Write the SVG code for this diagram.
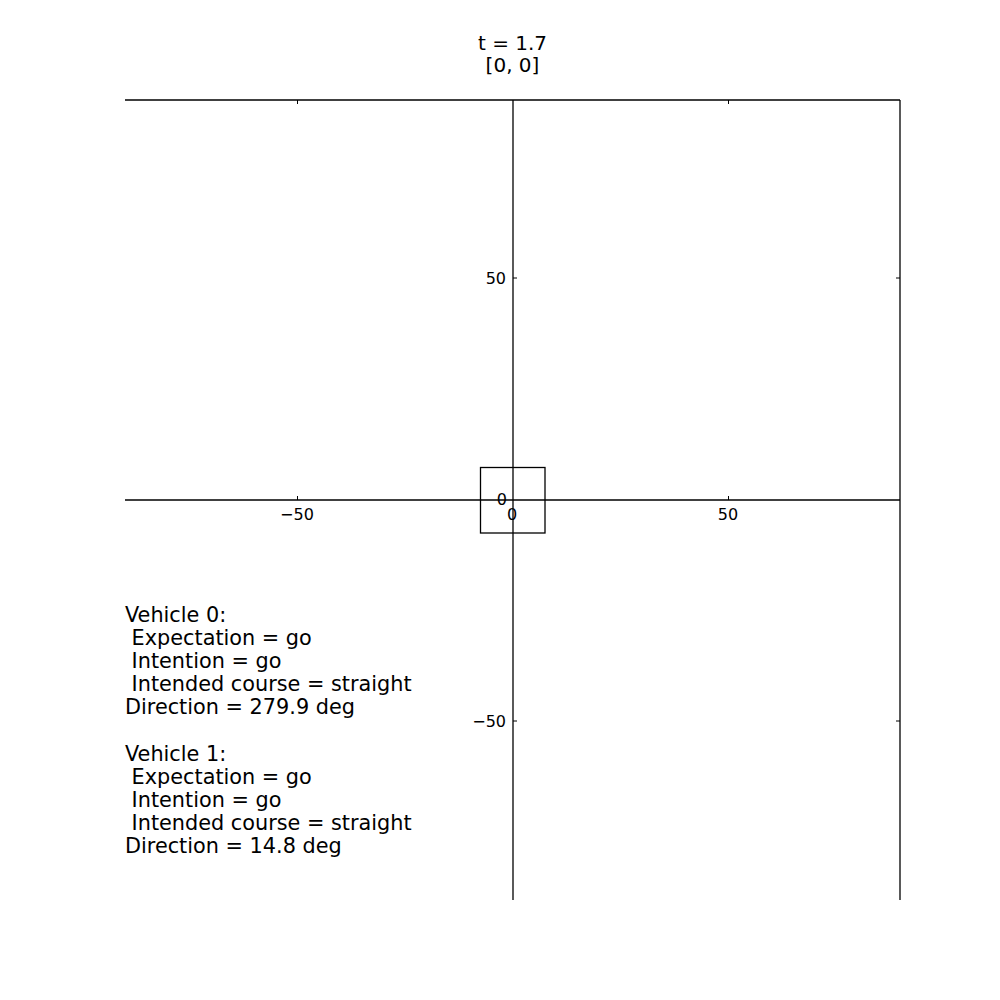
<svg xmlns="http://www.w3.org/2000/svg" width="1000" height="1000" viewBox="0 0 1000 1000">
<style>
text{font-family:"DejaVu Sans",sans-serif;fill:#000}
.tk{font-size:16px}
.ti{font-size:20px;text-anchor:middle}
.tb{font-size:20.8px}
.ax{stroke:#000;stroke-width:1.3;fill:none}
.tick{stroke:#000;stroke-width:1;fill:none}
</style>
<rect width="1000" height="1000" fill="#fff"/>
<g id="title">
<text class="ti" x="512.5" y="50">t = 1.7</text>
<text class="ti" x="512.5" y="72">[0, 0]</text>
</g>
<g id="axes">
<line class="ax" x1="125" y1="100" x2="900" y2="100"/>
<line class="ax" x1="900" y1="100" x2="900" y2="900"/>
<line class="ax" x1="125" y1="500" x2="900" y2="500"/>
<line class="ax" x1="513" y1="100" x2="513" y2="900"/>
<path class="tick" d="M297.5 100v4M728.5 100v4M297.5 500v-4M728.5 500v-4M900 278h-4M900 721h-4M513 278h4M513 721h4"/>
<text class="tk" x="297" y="520" text-anchor="middle">−50</text>
<text class="tk" x="512" y="520" text-anchor="middle">0</text>
<text class="tk" x="728" y="520" text-anchor="middle">50</text>
<text class="tk" x="506" y="284" text-anchor="end">50</text>
<text class="tk" x="507" y="505" text-anchor="end">0</text>
<text class="tk" x="506" y="727" text-anchor="end">−50</text>
</g>
<g id="vehicle-box">
<rect x="480.5" y="467.5" width="64.5" height="65.5" fill="none" stroke="#000" stroke-width="1.3"/>
</g>
<g id="info">
<text class="tb" x="125" y="622">Vehicle 0:</text>
<text class="tb" x="125" y="645" xml:space="preserve"> Expectation = go</text>
<text class="tb" x="125" y="668" xml:space="preserve"> Intention = go</text>
<text class="tb" x="125" y="691" xml:space="preserve"> Intended course = straight</text>
<text class="tb" x="125" y="714">Direction = 279.9 deg</text>
<text class="tb" x="125" y="761">Vehicle 1:</text>
<text class="tb" x="125" y="784" xml:space="preserve"> Expectation = go</text>
<text class="tb" x="125" y="807" xml:space="preserve"> Intention = go</text>
<text class="tb" x="125" y="830" xml:space="preserve"> Intended course = straight</text>
<text class="tb" x="125" y="853">Direction = 14.8 deg</text>
</g>
</svg>
